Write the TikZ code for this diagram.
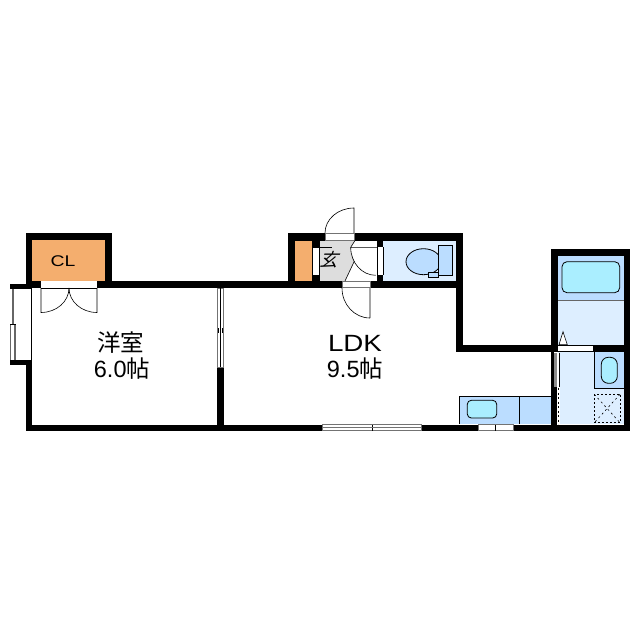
\documentclass[tikz,border=0pt]{standalone}
\usepackage{fontspec}
\setmainfont{Liberation Sans}
\newfontfamily\cjk{Noto Sans CJK JP}
\definecolor{orangeroom}{HTML}{F4AE6E}
\definecolor{graytile}{HTML}{DDDDDD}
\definecolor{bluedark}{HTML}{BBDDFF}
\definecolor{bluelight}{HTML}{DDEEFF}
\definecolor{bluewater}{HTML}{AAEEFF}
\tikzset{
  wall/.style={fill=black,draw=none},
  gap/.style={fill=white,draw=none},
  fixture/.style={draw=black,line width=0.8pt},
  thin line/.style={draw=black,line width=0.6pt},
  win/.style={fill=white,draw=black!55,line width=0.7pt},
  label/.style={font=\fontsize{23.5}{26}\selectfont,align=center,inner sep=0pt},
}
\begin{document}
\begin{tikzpicture}[x=1pt,y=-1pt]
\useasboundingbox (0,0) rectangle (640,640);
\fill[white] (0,0) rectangle (640,640);
% coloured floors
\fill[orangeroom] (32,240) rectangle (105,281);
\fill[orangeroom] (295,240) rectangle (312,281);
\fill[graytile] (319.5,240.5) -- (355,240.5) -- (350.7,247) arc[start angle=180,end angle=149,x radius=25,y radius=28] -- (345,281) -- (319.5,281) -- cycle;
\fill[bluelight] (383,240.5) rectangle (456,281);
\fill[bluelight] (558,256) rectangle (624,345);
\fill[bluedark] (558,256) rectangle (624,300.5);
\fill[bluelight] (558,351) rectangle (624,424);
\fill[bluedark] (594.3,351.5) rectangle (624,388.3);
\fill[bluedark] (459,396) rectangle (551.5,424);
% walls
\fill[wall] (26,233) rectangle (112,240);
\fill[wall] (26,233) rectangle (32,288);
\fill[wall] (105,233) rectangle (112,288);
\fill[wall] (26,281) rectangle (224,288);
\fill[wall] (10,284) rectangle (32,289);
\fill[wall] (10,360) rectangle (32,365);
\fill[wall] (26,360) rectangle (32,431);
\fill[wall] (26,424.5) rectangle (630,431);
\fill[wall] (217,281) rectangle (224,431);
\fill[wall] (224,281) rectangle (463,288);
\fill[wall] (288,233) rectangle (463,240.5);
\fill[wall] (288,233) rectangle (295,288);
\fill[wall] (312,240) rectangle (319.5,288);
\fill[wall] (376.7,240) rectangle (383,288);
\fill[wall] (456,233) rectangle (463,352);
\fill[wall] (456,344.7) rectangle (630,351.7);
\fill[wall] (551.3,249.3) rectangle (630,256);
\fill[wall] (551.3,249.3) rectangle (558,352);
\fill[wall] (623.5,249.3) rectangle (630,431);
\fill[wall] (551.3,351) rectangle (554.3,431);
\fill[wall] (554,387) rectangle (557,425);
% closet doors
\fill[gap] (41,281) rectangle (97,288);
\draw[thin line] (41,288) -- (97,288);
\draw[thin line] (41,288) -- (41,312.5) arc[start angle=90,end angle=0,x radius=28,y radius=24.5];
\draw[thin line] (97,288) -- (97,312.5) arc[start angle=90,end angle=180,x radius=28,y radius=24.5];
% bay window
\fill[gap] (10,289) rectangle (26,360);
\draw[thin line] (31.7,288) -- (31.7,360);
\fill[black!60] (11.7,289) rectangle (14.3,325);
\fill[black!60] (14.3,325) rectangle (16,360);
\draw[draw=black!60,line width=0.6pt] (10.3,325) -- (10.3,360);
\draw[draw=black,line width=0.7pt] (10,324) -- (16,324);
% partition sliding door
\fill[win] (217.5,288) rectangle (223.5,367);
\draw[thin line] (220.5,288) -- (220.5,367);
\draw[thin line] (218.5,328) -- (218.5,333) (222.5,328) -- (222.5,333);
% entry door
\fill[win] (325,233.5) rectangle (354,240);
\draw[thin line] (354,233) -- (354,208) arc[start angle=270,end angle=180,x radius=29,y radius=25];
% wall gaps near hall
\fill[gap] (313,247) rectangle (319,275);
\draw[thin line] (313,247) -- (332,247) (313,275) -- (319.5,275) (319.5,247) -- (319.5,275);
\fill[gap] (377.5,247) rectangle (383,275);
\draw[thin line] (377.5,247) -- (377.5,275) (383,247) -- (383,275);
% toilet door
\draw[thin line] (377,247.3) -- (350.7,247.3) arc[start angle=180,end angle=90,x radius=25,y radius=28];
% LDK door
\fill[win] (342,281.5) rectangle (370,287.5);
\draw[thin line] (370,288) -- (370,318) (342,288) arc[start angle=180,end angle=90,x radius=28,y radius=30];
% hall step lines
\draw[thin line] (355,240.5) -- (350.7,247.3) (354.4,261) -- (345,281);
% toilet
\filldraw[fixture,fill=bluedark] (423.5,261.7) ellipse[x radius=17.5,y radius=13];
\filldraw[fixture,fill=bluedark] (438.7,245) rectangle (452.7,275.5);
\filldraw[fixture,fill=bluedark] (428,272.5) rectangle (438,277);
% bath
\draw[draw=black!60,line width=0.6pt] (558,300.5) -- (624,300.5);
\filldraw[fixture,fill=bluewater,rounded corners=5pt] (562,261.7) rectangle (619.7,292.7);
\fill[gap] (557.7,345.8) rectangle (592.7,351);
\filldraw[thin line,fill=white] (563,331.7) -- (559,344.7) -- (567.3,344.7) -- cycle;
% washroom
\draw[thin line] (594.3,351.5) -- (594.3,388.3) -- (624,388.3);
\filldraw[fixture,fill=bluewater,rounded corners=7pt] (601.3,357.3) rectangle (617.3,383.3);
\draw[thin line,dash pattern=on 2pt off 2pt] (594.3,394.3) rectangle (620,422.7);
\draw[thin line,dash pattern=on 2pt off 3pt] (594.3,394.3) -- (620,422.7) (620,394.3) -- (594.3,422.7);
% sliding wash door
\fill[black!45] (554.3,352.7) rectangle (556.5,387);
\fill[white] (556.5,352.7) rectangle (559.3,387);
\draw[thin line] (559.6,352.7) -- (559.6,387);
\fill[white] (557,387) rectangle (560.3,424.5);
\draw[draw=black,line width=1.4pt,dash pattern=on 2pt off 2.5pt] (558.7,388) -- (558.7,424);
% kitchen
\draw[thin line] (459,424) -- (459,396) -- (551.5,396);
\draw[thin line] (519.3,396) -- (519.3,424);
\filldraw[fixture,fill=bluewater,rounded corners=4pt] (467.3,400.3) rectangle (496.7,418);
% south windows
\fill[win] (322.5,424.8) rectangle (372,430.8);
\fill[win] (372,424.8) rectangle (421,430.8);
\draw[thin line] (372,424.8) -- (372,430.8);
\draw[draw=black!55,line width=0.7pt] (322.5,427.8) -- (421,427.8);
\fill[win] (478,424.8) rectangle (495.5,430.8);
\fill[win] (495.5,424.8) rectangle (513.3,430.8);
\draw[thin line] (495.5,424.8) -- (495.5,430.8);
% labels
\node[label,font=\fontsize{15.5}{18}\selectfont] (cl) at (63,260.7) {\scalebox{1.25}[1]{CL}};
\node[label] (yoshitsu) at (120.7,342.5) {\cjk 洋室};
\node[label] (yoshitsuarea) at (122,368.5) {6.0\cjk 帖};
\node[label] (ldk) at (355,343.5) {\scalebox{1.18}[1]{LDK}};
\node[label] (ldkarea) at (355,368.5) {9.5\cjk 帖};
\node[label,font=\fontsize{18}{22}\selectfont,transform shape,xslant=0.35] (genkan) at (331,260) {\cjk 玄};
\end{tikzpicture}
\end{document}
